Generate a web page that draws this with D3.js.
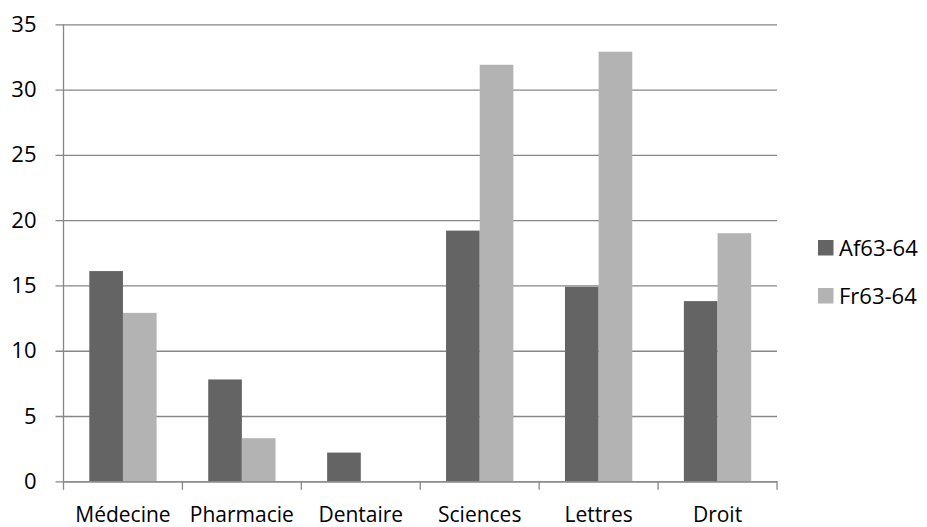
<!DOCTYPE html>
<html>
<head>
<meta charset="utf-8">
<script src="https://cdn.jsdelivr.net/npm/d3@7"></script>
<style>
  body { margin: 0; background: #fff; }
  text { font-family: "Open Sans", sans-serif; fill: #000; }
</style>
</head>
<body>
<div id="chart"></div>
<script>
const categories = ['Médecine', 'Pharmacie', 'Dentaire', 'Sciences', 'Lettres', 'Droit'];
const seriesNames = ['Af63-64', 'Fr63-64'];
const af = [16.1, 7.8, 2.2, 19.2, 14.9, 13.8];
const fr = [12.9, 3.3, 0, 31.9, 32.9, 19.0];
const yTicks = [0, 5, 10, 15, 20, 25, 30, 35];
const colors = ['#646464', '#b3b3b3'];

const width = 927;
const height = 527;
const plot = { left: 63.5, right: 777, top: 24.3, bottom: 481.3 };

const svg = d3.select('#chart')
  .append('svg')
  .attr('width', width)
  .attr('height', height);

const x = d3.scaleBand()
  .domain(categories)
  .range([plot.left, plot.right]);

const groupW = x.bandwidth() * 0.566;
const xInner = d3.scaleBand()
  .domain(seriesNames)
  .range([0, groupW]);

const y = d3.scaleLinear()
  .domain([0, 35])
  .range([plot.bottom, plot.top]);

// gridlines + y labels
const yAxis = d3.axisLeft(y)
  .tickValues(yTicks)
  .tickSize(-(plot.right - plot.left) - 8)
  .tickPadding(19)
  .tickFormat(d3.format('d'));

const yg = svg.append('g')
  .attr('transform', `translate(${plot.right},0)`)
  .call(yAxis);
yg.select('.domain').remove();
yg.selectAll('.tick line')
  .attr('x1', 0)
  .attr('x2', -(plot.right - plot.left) - 8)
  .attr('stroke', '#878787')
  .attr('stroke-width', 1.3);
yg.selectAll('.tick text')
  .attr('x', -(plot.right - plot.left) - 8 - 19)
  .style('font-size', '22px')
  .style('fill', '#000');

// bars
const rows = categories.map((c, i) => ({ cat: c, vals: [af[i], fr[i]] }));
const groups = svg.append('g')
  .selectAll('g')
  .data(rows)
  .join('g')
  .attr('transform', d => `translate(${x(d.cat) + (x.bandwidth() - groupW) / 2},0)`);

groups.selectAll('rect')
  .data(d => d.vals.map((v, j) => ({ name: seriesNames[j], v, j })))
  .join('rect')
  .attr('x', d => xInner(d.name))
  .attr('width', xInner.bandwidth())
  .attr('y', d => y(d.v))
  .attr('height', d => y(0) - y(d.v))
  .attr('fill', d => colors[d.j]);

// y axis line
svg.append('line')
  .attr('x1', plot.left).attr('x2', plot.left)
  .attr('y1', plot.top).attr('y2', plot.bottom)
  .attr('stroke', '#878787')
  .attr('stroke-width', 1.3);

// x axis
const xAxis = d3.axisBottom(x).tickSize(0).tickPadding(0);
const xg = svg.append('g')
  .attr('transform', `translate(0,${plot.bottom})`)
  .call(xAxis);
xg.select('.domain')
  .attr('stroke', '#878787')
  .attr('stroke-width', 1.3);
xg.selectAll('.tick text')
  .attr('dy', null)
  .attr('y', 40.5)
  .style('font-size', '21px')
  .style('fill', '#000');

// boundary tick marks below the axis
const boundaries = categories.map(c => x(c)).concat([plot.right]);
svg.append('g')
  .selectAll('line')
  .data(boundaries)
  .join('line')
  .attr('x1', d => d).attr('x2', d => d)
  .attr('y1', plot.bottom).attr('y2', plot.bottom + 8.5)
  .attr('stroke', '#878787')
  .attr('stroke-width', 1.3);

// legend
const legend = svg.append('g')
  .selectAll('g')
  .data(seriesNames)
  .join('g')
  .attr('transform', (d, i) => `translate(818,${240 + i * 48})`);
legend.append('rect')
  .attr('width', 15.5)
  .attr('height', 15.5)
  .attr('fill', (d, i) => colors[i]);
legend.append('text')
  .attr('x', 21)
  .attr('y', 16)
  .style('font-size', '22px')
  .text(d => d);
</script>
</body>
</html>
